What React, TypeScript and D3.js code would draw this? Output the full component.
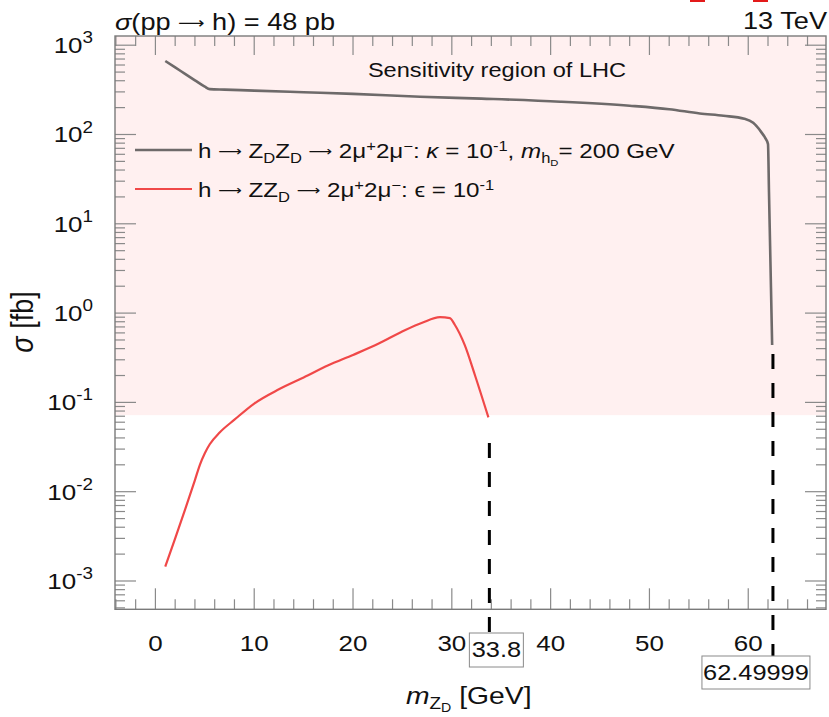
import React from "react";
import * as d3 from "d3";

// ---- data ----
const grayX = [1, 2, 3, 4, 5, 5.5, 7, 10, 15, 20, 26.8, 33, 41, 48, 52, 55.1, 57.5, 59.6, 60.5, 61.3, 61.7, 62.0, 62.1, 62.2, 62.3, 62.42];
const grayY = [665, 564, 477, 404, 343, 322, 318, 310, 297, 285, 265, 252, 233, 210, 192, 172, 162, 150, 135, 107, 92, 78, 22.6, 6.6, 1.93, 0.44];

const redX = [1, 2, 3, 4, 4.5, 5, 5.5, 6.5, 8, 10, 12.5, 15, 17.5, 20, 22.5, 25.3, 27, 28.8, 29.8, 30.3, 31.3, 32.35, 33.7];
const redY = [1.45e-3, 3.0e-3, 6.3e-3, 0.0135, 0.02, 0.027, 0.034, 0.046, 0.064, 0.097, 0.14, 0.19, 0.26, 0.34, 0.45, 0.647, 0.78, 0.9, 0.88, 0.74, 0.44, 0.2, 0.068];

const xMajorTicks = [0, 10, 20, 30, 40, 50, 60];
const yExponents = [-3, -2, -1, 0, 1, 2, 3];
const cutoffs = ["33.8", "62.49999"];
const sensitivityLimit = 0.072;

// ---- layout ----
const W = 829, H = 717;
const L = 115, R = 826, T = 36, B = 609.3;
const SX = 1.18;
const FONT = "'Liberation Sans', Arial, Helvetica, sans-serif";
const ARROW_FONT = "'DejaVu Sans', sans-serif";

const x = d3.scaleLinear().domain([-4.09, 67.87]).range([L, R]);
const y = d3.scaleLog().domain([Math.pow(10, -3.317), Math.pow(10, 3.103)]).range([B, T]);

const line = d3
  .line<[number, number]>()
  .x((d) => x(d[0]))
  .y((d) => y(d[1]))
  .curve(d3.curveMonotoneX);

const grayPts = grayX.map((v, i) => [v, grayY[i]] as [number, number]);
const redPts = redX.map((v, i) => [v, redY[i]] as [number, number]);

function ST({ tx, ty, anchor = "start", size = 21, children, rotate = 0 }: any) {
  return (
    <text
      transform={`translate(${tx},${ty}) scale(${SX},1)${rotate ? ` rotate(${rotate})` : ""}`}
      textAnchor={anchor}
      fontSize={size}
      fontFamily={FONT}
      fill="#111"
    >
      {children}
    </text>
  );
}

function Arrow({ size }: { size: number }) {
  return (
    <tspan fontFamily={ARROW_FONT} fontSize={size * 0.68} baselineShift={size * 0.1}>
      {"\u27F6"}
    </tspan>
  );
}

export default function App() {
  const xMinor = d3.range(-4, 68, 2).filter((v) => v % 10 !== 0 && x(v) > L + 0.5 && x(v) < R - 0.5);
  const yMinor: number[] = [];
  for (let e = -4; e <= 3; e++) {
    for (let k = 2; k <= 9; k++) {
      const v = k * Math.pow(10, e);
      const [d0, d1] = y.domain();
      if (v > d0 && v < d1) yMinor.push(v);
    }
  }
  const tickColor = "#8a8a8a";
  const majLen = 21, minLen = 10;

  const cut1 = parseFloat(cutoffs[0]);
  const cut2 = parseFloat(cutoffs[1]);
  const LG = 20.5;
  const SUB = 14;

  return (
    <svg width={W} height={H} style={{ position: "absolute", left: 0, top: 0, background: "#fff" }}>
      {/* clipped red artifacts at top */}
      <rect x={690} y={0} width={15} height={2} fill="#e31a1a" />
      <rect x={753} y={0} width={15} height={2} fill="#e31a1a" />

      {/* sensitivity region */}
      <rect x={L} y={T} width={R - L} height={y(sensitivityLimit) - T} fill="#fff0f0" />

      {/* ticks */}
      <g stroke={tickColor} strokeWidth={1.2}>
        {xMajorTicks.map((v) => (
          <g key={"xm" + v}>
            <line x1={x(v)} x2={x(v)} y1={B} y2={B - majLen} />
            <line x1={x(v)} x2={x(v)} y1={T} y2={T + majLen - 2} />
          </g>
        ))}
        {xMinor.map((v) => (
          <g key={"xn" + v}>
            <line x1={x(v)} x2={x(v)} y1={B} y2={B - minLen} />
            <line x1={x(v)} x2={x(v)} y1={T} y2={T + minLen} />
          </g>
        ))}
        {yExponents.map((e) => (
          <g key={"ym" + e}>
            <line x1={L} x2={L + majLen} y1={y(Math.pow(10, e))} y2={y(Math.pow(10, e))} />
            <line x1={R} x2={R - majLen} y1={y(Math.pow(10, e))} y2={y(Math.pow(10, e))} />
          </g>
        ))}
        {yMinor.map((v, i) => (
          <g key={"yn" + i}>
            <line x1={L} x2={L + minLen} y1={y(v)} y2={y(v)} />
            <line x1={R} x2={R - minLen} y1={y(v)} y2={y(v)} />
          </g>
        ))}
      </g>

      {/* frame */}
      <rect x={L} y={T} width={R - L} height={B - T} fill="none" stroke="#7a7a7a" strokeWidth={1.4} />

      {/* curves */}
      <path d={line(grayPts) || ""} fill="none" stroke="#6e6a6a" strokeWidth={2.6} />
      <path d={line(redPts) || ""} fill="none" stroke="#f04848" strokeWidth={2.2} />

      {/* cutoff dashed lines */}
      <line x1={x(cut1)} x2={x(cut1)} y1={443} y2={633} stroke="#000" strokeWidth={3} strokeDasharray="15,14" />
      <line x1={x(cut2)} x2={x(cut2)} y1={354} y2={656} stroke="#000" strokeWidth={3} strokeDasharray="15,14" />

      {/* cutoff boxes */}
      <rect x={x(cut1) + 7 - 27} y={633} width={54} height={34} fill="#fff" stroke="#8a8a8a" strokeWidth={1} />
      <ST tx={x(cut1) + 7} ty={657} anchor="middle" size={21.5}>{cutoffs[0]}</ST>
      <rect x={x(cut2) - 17 - 54} y={656} width={108} height={33} fill="#fff" stroke="#8a8a8a" strokeWidth={1} />
      <ST tx={x(cut2) - 17} ty={680} anchor="middle" size={21.5}>{cutoffs[1]}</ST>

      {/* x tick labels */}
      {xMajorTicks.map((v) => (
        <ST key={"xl" + v} tx={x(v)} ty={651} anchor="middle" size={22}>{v}</ST>
      ))}

      {/* y tick labels */}
      {yExponents.map((e) => (
        <ST key={"yl" + e} tx={93} ty={y(Math.pow(10, e)) + 8} anchor="end" size={22}>
          <tspan>10</tspan>
          <tspan dy={-10} fontSize={16}>{e}</tspan>
        </ST>
      ))}

      {/* titles */}
      <ST tx={115} ty={29.5} size={23}>
        <tspan fontStyle="italic">σ</tspan>(pp <Arrow size={23} /> h) = 48 pb
      </ST>
      <ST tx={827} ty={28.5} anchor="end" size={23}>13 TeV</ST>
      <ST tx={497} ty={77} anchor="middle" size={20}>Sensitivity region of LHC</ST>

      {/* axis titles */}
      <ST tx={33} ty={322} anchor="middle" size={27} rotate={-90}>
        <tspan fontStyle="italic">σ</tspan> [fb]
      </ST>
      <ST tx={406} ty={704} size={24}>
        <tspan fontStyle="italic">m</tspan>
        <tspan dy={5} fontSize={16}>Z</tspan>
        <tspan dy={3} fontSize={12}>D</tspan>
        <tspan dy={-8}> [GeV]</tspan>
      </ST>

      {/* legend */}
      <line x1={135} x2={192} y1={150} y2={150} stroke="#6e6a6a" strokeWidth={2.6} />
      <line x1={135} x2={192} y1={189} y2={189} stroke="#f04848" strokeWidth={2.2} />
      <ST tx={198} ty={158} size={LG}>
        h <Arrow size={LG} /> Z<tspan dy={5} fontSize={SUB}>D</tspan>
        <tspan dy={-5}>Z</tspan>
        <tspan dy={5} fontSize={SUB}>D</tspan>
        <tspan dy={-5}> </tspan>
        <Arrow size={LG} />
        <tspan> 2μ</tspan>
        <tspan dy={-7} fontSize={SUB}>+</tspan>
        <tspan dy={7}>2μ</tspan>
        <tspan dy={-7} fontSize={SUB}>−</tspan>
        <tspan dy={7}>: </tspan>
        <tspan fontStyle="italic">κ</tspan>
        <tspan> = 10</tspan>
        <tspan dy={-7} fontSize={SUB}>-1</tspan>
        <tspan dy={7}>, </tspan>
        <tspan fontStyle="italic">m</tspan>
        <tspan dy={5} fontSize={SUB}>h</tspan>
        <tspan dy={3} fontSize={9.5}>D</tspan>
        <tspan dy={-8}>= 200 GeV</tspan>
      </ST>
      <ST tx={198} ty={197} size={LG}>
        h <Arrow size={LG} /> ZZ<tspan dy={5} fontSize={SUB}>D</tspan>
        <tspan dy={-5}> </tspan>
        <Arrow size={LG} />
        <tspan> 2μ</tspan>
        <tspan dy={-7} fontSize={SUB}>+</tspan>
        <tspan dy={7}>2μ</tspan>
        <tspan dy={-7} fontSize={SUB}>−</tspan>
        <tspan dy={7}>: ϵ = 10</tspan>
        <tspan dy={-7} fontSize={SUB}>-1</tspan>
      </ST>
    </svg>
  );
}
